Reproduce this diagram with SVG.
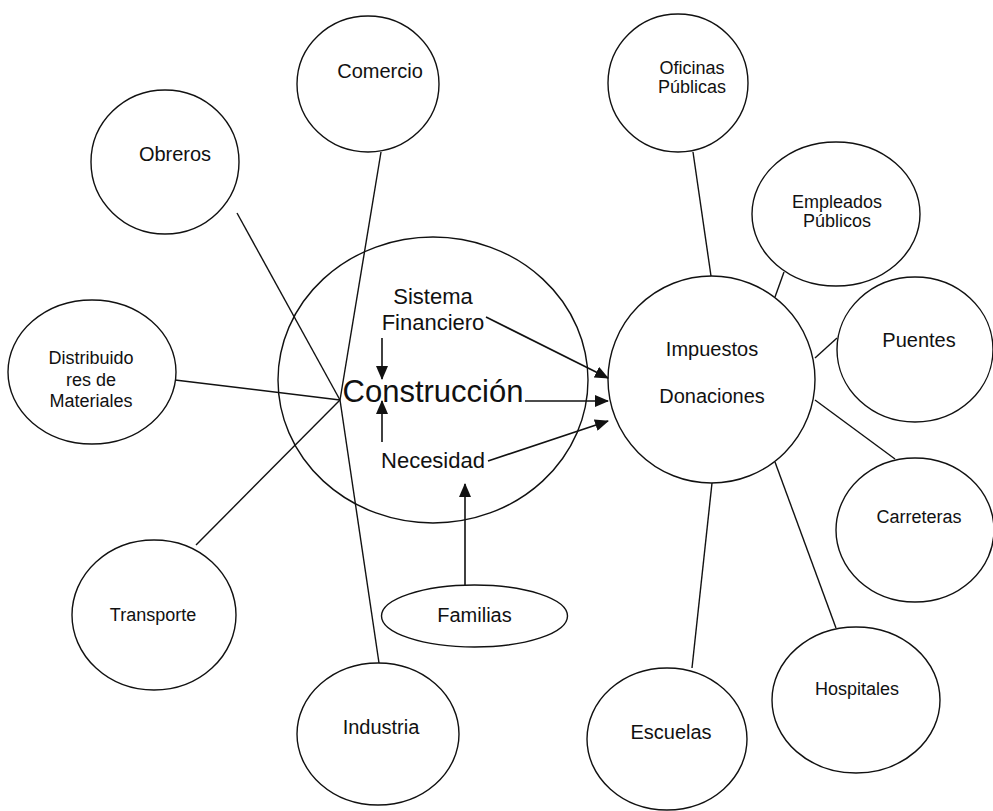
<svg xmlns="http://www.w3.org/2000/svg" width="993" height="811" viewBox="0 0 993 811">
<defs>
<style>
.n{fill:#fff;stroke:#111;stroke-width:1.4}
.c{fill:none;stroke:#111;stroke-width:1.4}
.a{fill:none;stroke:#111;stroke-width:1.6;marker-end:url(#ah)}
text{font-family:"Liberation Sans",Arial,sans-serif;fill:#111;text-anchor:middle}
.s18{font-size:18px}
.s20{font-size:20px}
.s22{font-size:22px}
.s31{font-size:31px}
</style>
<marker id="ah" markerWidth="14" markerHeight="12" refX="13" refY="6" orient="auto" markerUnits="userSpaceOnUse">
<path d="M0,0 L14,6 L0,12 Z" fill="#111"/>
</marker>
</defs>
<rect width="993" height="811" fill="#fff"/>

<g id="nodes-bg">
<g id="n-construccion"><ellipse class="n" cx="433" cy="380" rx="155" ry="143"/></g>
<g id="n-impuestos"><ellipse class="n" cx="711.5" cy="379.5" rx="103.5" ry="103.5"/></g>
</g>

<g id="connectors">
<line class="c" x1="381" y1="152" x2="340" y2="400"/>
<line class="c" x1="237" y1="213" x2="340" y2="400"/>
<line class="c" x1="175" y1="380" x2="340" y2="400"/>
<line class="c" x1="196" y1="545" x2="340" y2="400"/>
<line class="c" x1="379" y1="663" x2="340" y2="400"/>
<line class="c" x1="693" y1="152" x2="711" y2="276"/>
<line class="c" x1="784" y1="272" x2="775" y2="297"/>
<line class="c" x1="815" y1="358" x2="837" y2="338"/>
<line class="c" x1="815" y1="400" x2="895" y2="459"/>
<line class="c" x1="775" y1="462" x2="836" y2="628"/>
<line class="c" x1="712" y1="483" x2="692" y2="668"/>
<line class="a" x1="486" y1="317" x2="608" y2="378"/>
<line class="a" x1="525" y1="401" x2="608" y2="401"/>
<line class="a" x1="488" y1="461" x2="608" y2="421"/>
<line class="a" x1="382" y1="338" x2="382" y2="379"/>
<line class="a" x1="382" y1="442" x2="382" y2="401"/>
<line class="a" x1="465" y1="585" x2="465" y2="484"/>
</g>

<g id="n-construccion-text">
<text class="s22" x="433" y="304">Sistema</text>
<text class="s22" x="433" y="330">Financiero</text>
<text class="s31" x="433" y="402">Construcción</text>
<text class="s22" x="433" y="468">Necesidad</text>
</g>
<g id="n-impuestos-text">
<text class="s20" x="712" y="356">Impuestos</text>
<text class="s20" x="712" y="403">Donaciones</text>
</g>

<g id="n-comercio"><ellipse class="n" cx="368" cy="84" rx="71" ry="68"/><text class="s20" x="380" y="78">Comercio</text></g>
<g id="n-obreros"><ellipse class="n" cx="165" cy="162" rx="74" ry="72"/><text class="s20" x="175" y="161">Obreros</text></g>
<g id="n-distribuidores"><ellipse class="n" cx="92" cy="372" rx="84" ry="72"/>
<text class="s18" x="91" y="364">Distribuido</text>
<text class="s18" x="91" y="386">res de</text>
<text class="s18" x="91" y="407">Materiales</text></g>
<g id="n-transporte"><ellipse class="n" cx="154" cy="615" rx="82" ry="75"/><text class="s18" x="153" y="621">Transporte</text></g>
<g id="n-industria"><ellipse class="n" cx="378" cy="734" rx="81" ry="71"/><text class="s20" x="381" y="734">Industria</text></g>
<g id="n-familias"><ellipse class="n" cx="474.5" cy="616" rx="93" ry="31"/><text class="s20" x="474.5" y="622">Familias</text></g>
<g id="n-oficinas"><ellipse class="n" cx="678" cy="83" rx="70" ry="69"/>
<text class="s18" x="692" y="74">Oficinas</text>
<text class="s18" x="692" y="93">Públicas</text></g>
<g id="n-empleados"><ellipse class="n" cx="836" cy="214" rx="84" ry="72"/>
<text class="s18" x="837" y="208">Empleados</text>
<text class="s18" x="837" y="227">Públicos</text></g>
<g id="n-puentes"><ellipse class="n" cx="915" cy="349.5" rx="78" ry="72.5"/><text class="s20" x="919" y="347">Puentes</text></g>
<g id="n-carreteras"><ellipse class="n" cx="915" cy="530" rx="79" ry="72"/><text class="s18" x="919" y="523">Carreteras</text></g>
<g id="n-hospitales"><ellipse class="n" cx="856" cy="700" rx="84" ry="73"/><text class="s18" x="857" y="695">Hospitales</text></g>
<g id="n-escuelas"><ellipse class="n" cx="667" cy="739" rx="80" ry="71"/><text class="s20" x="671" y="739">Escuelas</text></g>
</svg>
